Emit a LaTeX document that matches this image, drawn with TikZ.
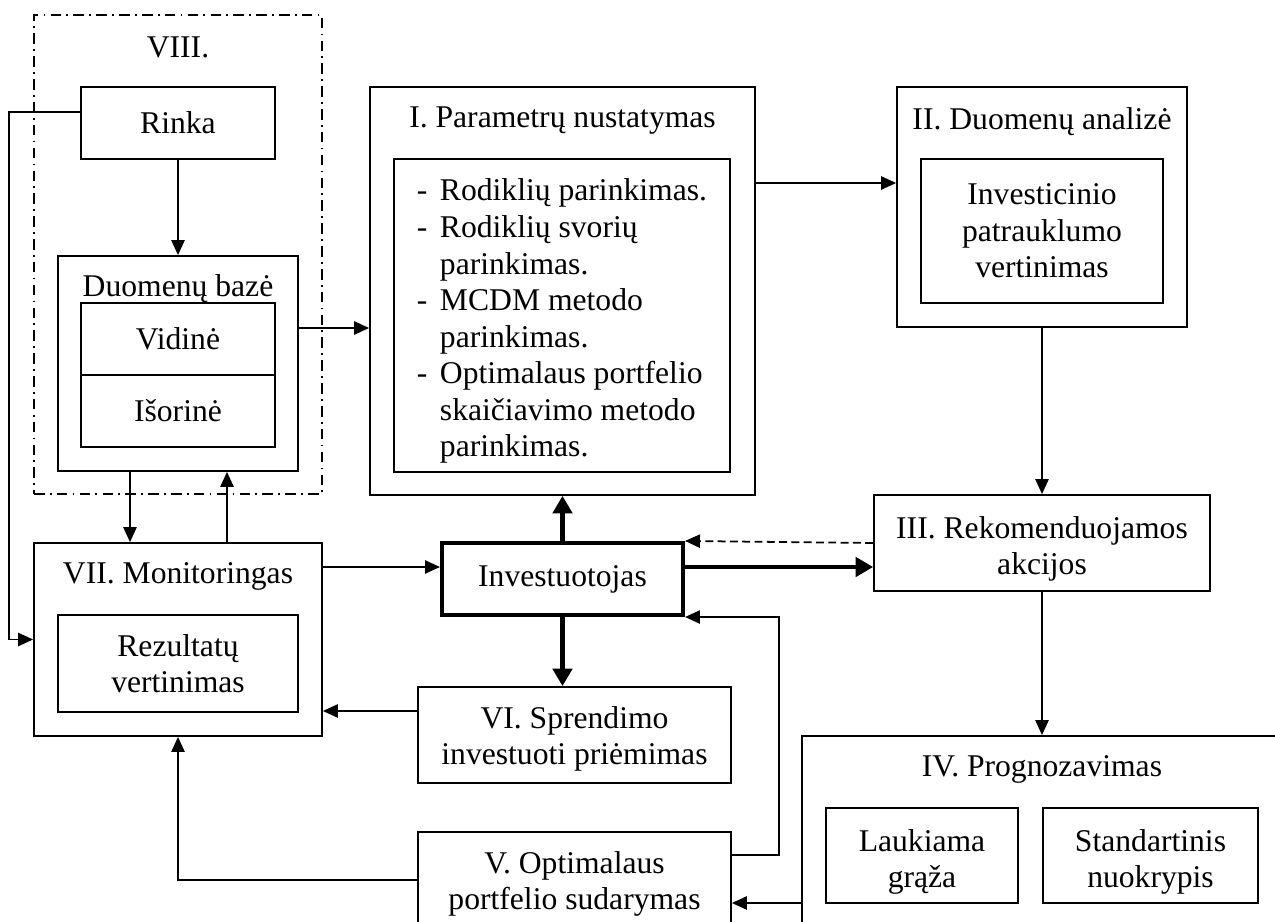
\documentclass[tikz,border=0pt]{standalone}
\usepackage{fontspec}
\setmainfont{Liberation Serif}
\usetikzlibrary{arrows.meta,positioning,calc}
\newcommand{\itemdash}{\makebox[0.46cm][l]{-}}
\newcommand{\itemcont}{\hspace*{0.46cm}}
\newcommand{\topgap}[1]{\rule{0pt}{#1}}

\begin{document}
\begin{tikzpicture}[x=0.02cm,y=-0.02cm] % one unit is one pixel of the sketch, y grows downwards
\tikzset{every node/.style={font=\fontsize{18}{20.8}\selectfont, inner sep=0pt}} % same text size everywhere
\tikzset{blk/.style={draw, line width=1pt, align=center}} % plain box
\tikzset{sz/.style 2 args={minimum width=#1*0.02cm, minimum height=#2*0.02cm}} % box size in pixels
\tikzset{ttl/.style={text height=12.6pt, text depth=4.5pt}} % heading at the top of a box
\tikzset{arr/.style={line width=1pt, -{Triangle[length=8.5pt,width=7.5pt]}}}
\tikzset{bigarr/.style={line width=2.3pt, -{Triangle[length=10pt,width=11pt]}}}
\useasboundingbox (0,0) rectangle (1275,922);
\clip (0,0) rectangle (1275,922);

% VIII. data sources
\node[blk, dash pattern=on 6pt off 3pt on 1pt off 3pt, sz={288}{479}] (viii) at (178,254.5) {};
\node[ttl, below=0.42cm of viii.north] (viiit) {VIII.};
\node[blk, sz={194}{72}] (rinka) at (178,123) {Rinka};
\node[blk, sz={240}{215}] (db) at (178,363.5) {};
\node[ttl, below=0.38cm of db.north] (dbt) {Duomenų bazė};
\node[blk, sz={194}{72}] (vid) at (178,339) {Vidinė};
\node[blk, sz={194}{72}] (isor) at (178,411) {Išorinė};

% I. and II.
\node[blk, sz={385}{408}] (pI) at (562.5,291) {};
\node[ttl, below=0.38cm of pI.north] (pIt) {I. Parametrų nustatymas};
\node[blk, sz={336}{313}, align=left] (pIin) at (562,315.5) {\topgap{19pt}\itemdash Rodiklių parinkimas.\\
  \itemdash Rodiklių svorių\\ \itemcont parinkimas.\\
  \itemdash MCDM metodo\\ \itemcont parinkimas.\\
  \itemdash Optimalaus portfelio\\ \itemcont skaičiavimo metodo\\ \itemcont parinkimas.};
\node[blk, sz={290}{240}] (pII) at (1042,207) {};
\node[ttl, below=0.42cm of pII.north] (pIIt) {II. Duomenų analizė};
\node[blk, sz={242}{144}] (pIIin) at (1042,231) {Investicinio\\patrauklumo\\vertinimas};

% III. to VII.
\node[blk, sz={336}{96}] (pIII) at (1042,543) {\topgap{19pt}III. Rekomenduojamos\\akcijos};
\node[blk, sz={241}{72}, line width=2.3pt] (inv) at (562.5,579) {Investuotojas};
\node[blk, sz={288}{193}] (pVII) at (178,639.5) {};
\node[ttl, below=0.38cm of pVII.north] (pVIIt) {VII. Monitoringas};
\node[blk, sz={240}{97}] (pVIIin) at (178,663.5) {Rezultatų\\vertinimas};
\node[blk, sz={313}{96}] (pVI) at (574.5,735) {\topgap{17pt}VI. Sprendimo\\investuoti priėmimas};
\node[blk, sz={313}{96}] (pV) at (574.5,880) {\topgap{17pt}V. Optimalaus\\portfelio sudarymas};
\node[blk, sz={480}{191}] (pIV) at (1042,831.5) {};
\node[ttl, below=0.38cm of pIV.north] (pIVt) {IV. Prognozavimas};
\node[blk, sz={192}{95}] (graza) at (922,855.5) {\topgap{20pt}Laukiama\\grąža};
\node[blk, sz={215}{95}] (nuokr) at (1150.5,855.5) {\topgap{20pt}Standartinis\\nuokrypis};

% connectors
\draw[arr] ($(rinka.west)+(0,-11)$) -- ++(-71,0) |- (pVII.west);
\draw[arr] (rinka.south) -- (rinka.south |- db.north);
\draw[arr] ($(db.east)+(0,-35.5)$) coordinate (dbout) -- (dbout -| pI.west);
\draw[arr] ($(db.south)+(-48,0)$) -- ($(pVII.north)+(-48,0)$);
\draw[arr] ($(pVII.north)+(49,0)$) -- ($(db.south)+(49,0)$);
\draw[arr] ($(pI.east)+(0,-108)$) coordinate (pIout) -- (pIout -| pII.west);
\draw[arr] (pII.south) -- (pII.south |- pIII.north);
\draw[arr] (pIII.south) -- (pIII.south |- pIV.north);
\draw[arr, dash pattern=on 4.5pt off 2.5pt] (pIII.west) -- (inv.north east);
\coordinate (invin) at ($(inv.west)+(0,-12)$);
\draw[arr] (pVII.east |- invin) -- (invin);
\draw[bigarr] ($(inv.east)+(0,-12)$) coordinate (invout) -- (invout -| pIII.west);
\draw[bigarr] (inv.north) -- (inv.north |- pI.south);
\draw[bigarr] (inv.south) -- (inv.south |- pVI.north);
\draw[arr] ($(pVI.west)+(0,-24)$) coordinate (pVIout) -- (pVIout -| pVII.east);
\draw[arr] ($(pV.east)+(0,-25)$) -- ++(47,0) |- (inv.south east);
\draw[arr] (pV.west) -| (pVII.south);
\draw[arr] ($(pIV.west)+(0,71.5)$) coordinate (pIVout) -- (pIVout -| pV.east);
\end{tikzpicture}
\end{document}
